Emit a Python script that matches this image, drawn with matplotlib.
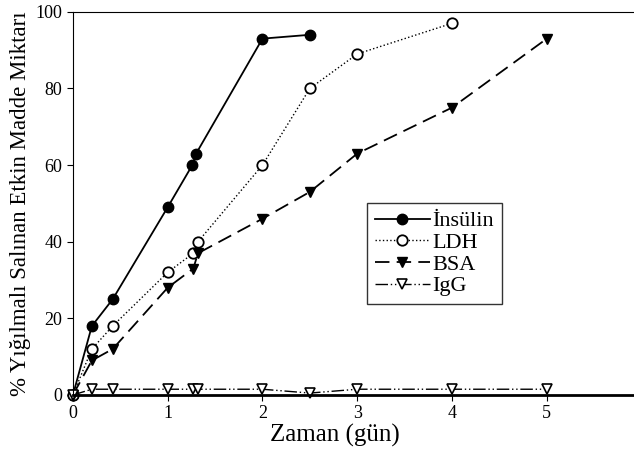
import matplotlib.pyplot as plt

plt.rcParams['font.family'] = ['Liberation Serif', 'DejaVu Serif']

# data
t_ins = [0, 0.2, 0.42, 1.0, 1.26, 1.3, 2.0, 2.5]
insulin = [0, 18, 25, 49, 60, 63, 93, 94]

t_ldh = [0, 0.2, 0.42, 1.0, 1.27, 1.32, 2.0, 2.5, 3.0, 4.0]
ldh = [0, 12, 18, 32, 37, 40, 60, 80, 89, 97]

t_bsa = [0, 0.2, 0.42, 1.0, 1.27, 1.32, 2.0, 2.5, 3.0, 4.0, 5.0]
bsa = [0, 9, 12, 28, 33, 37, 46, 53, 63, 75, 93]

t_igg = [0, 0.2, 0.42, 1.0, 1.27, 1.32, 2.0, 2.5, 3.0, 4.0, 5.0]
igg = [0, 1.5, 1.5, 1.5, 1.5, 1.5, 1.5, 0.5, 1.5, 1.5, 1.5]

fig = plt.figure(figsize=(6.34, 4.54), dpi=100)
ax = fig.add_axes([0.115, 0.130, 0.897, 0.844])

ax.plot(t_ins, insulin, color='black', linestyle='-', linewidth=1.3,
        marker='o', markersize=7.5, markerfacecolor='black', label='İnsülin')
ax.plot(t_ldh, ldh, color='black', linestyle=':', linewidth=1.0,
        marker='o', markersize=7.5, markerfacecolor='white', markeredgewidth=1.3,
        label='LDH')
ax.plot(t_bsa, bsa, color='black', linestyle=(0, (8, 4)), linewidth=1.3,
        marker='v', markersize=7.5, markerfacecolor='black', label='BSA')
ax.plot(t_igg, igg, color='black', linestyle=(0, (9, 2, 1, 2, 1, 2)), linewidth=1.0,
        marker='v', markersize=7.5, markerfacecolor='white', markeredgewidth=1.2,
        label='IgG')

ax.set_xlim(0, 6)
ax.set_ylim(0, 100)
ax.set_xticks([0, 1, 2, 3, 4, 5, 6])
ax.set_yticks([0, 20, 40, 60, 80, 100])
ax.tick_params(labelsize=13, direction='out', length=4)
ax.spines['right'].set_visible(False)
ax.spines['bottom'].set_linewidth(2.0)
for ln in ax.lines:
    ln.set_clip_on(False)

ax.set_xlabel('Zaman (gün)', fontsize=18, labelpad=1)
ax.xaxis.set_label_coords(0.46, -0.075)
ax.set_ylabel('% Yığılmalı Salınan Etkin Madde Miktarı', fontsize=16.5, labelpad=3)

leg = ax.legend(loc='upper left', bbox_to_anchor=(0.517, 0.501), fontsize=16,
                borderaxespad=0, frameon=True, fancybox=False, edgecolor='black',
                handlelength=2.5, handletextpad=0.1, borderpad=0.35,
                labelspacing=0.05)
leg.get_frame().set_linewidth(1.0)

fig.savefig('out.png', dpi=100)
